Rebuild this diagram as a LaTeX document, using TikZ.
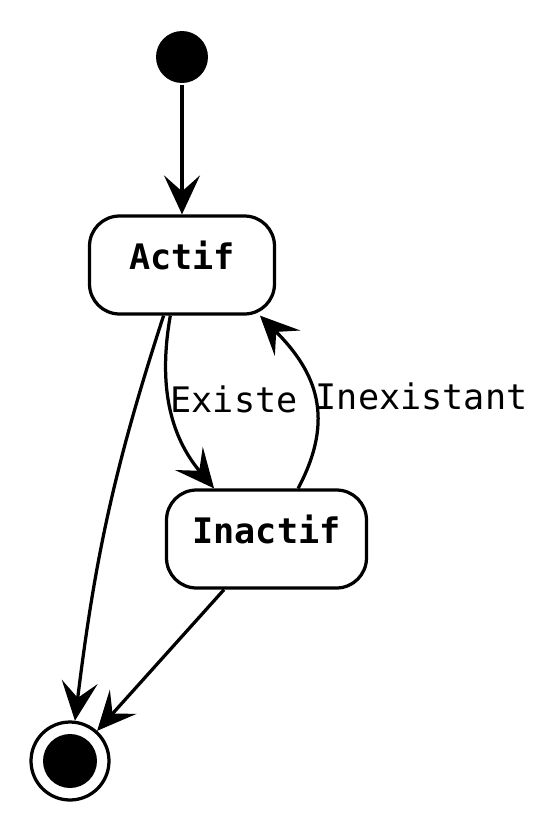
\documentclass[tikz,border=0pt]{standalone}
\usepackage{fontspec}
\setmonofont{DejaVu Sans Mono}
\usetikzlibrary{arrows.meta}

\begin{document}
\begin{tikzpicture}[x=0.02cm, y=-0.02cm,
    line width=0.065cm,
    >={Stealth[length=0.78cm,width=0.72cm,inset=0.32cm]},
    dot/.style = {circle, fill=black, inner sep=0},
    state/.style = {rectangle, draw,
        rounded corners=0.6cm,
        minimum height=1.96cm,
        font=\fontsize{20}{24}\selectfont\ttfamily\bfseries,
        text height=0.76em, text depth=0.27em},
    lbl/.style = {font=\fontsize{20}{24}\selectfont\ttfamily,
        inner sep=0, anchor=west}]

\useasboundingbox (0,0) rectangle (557,833);

% Initial state
\node[dot, minimum size=1.04cm] (I) at (182,57) {};

% States
\node[state, minimum width=3.7cm] (A) at (182,265) {Actif};
\node[state, minimum width=4cm] (N) at (266.5,539) {Inactif};

% Final state
\node[circle, draw, minimum size=1.56cm] (F) at (70,761) {};
\node[dot, minimum size=1.08cm] (Fdot) at (F) {};

% Transitions
\draw[->] (I) -- (A);
\draw[->] (A.-110) to[out=-108, in=83] (F);
\draw[->] (A.-103) to[out=-100, in=130] node[lbl, pos=0.45] {Existe} (N.136);
\draw[->] (N.58) to[out=62, in=-45, looseness=1.15] node[lbl, pos=0.5] {Inexistant} (A.-33);
\draw[->] (N.-130) -- (F);
\end{tikzpicture}
\end{document}
